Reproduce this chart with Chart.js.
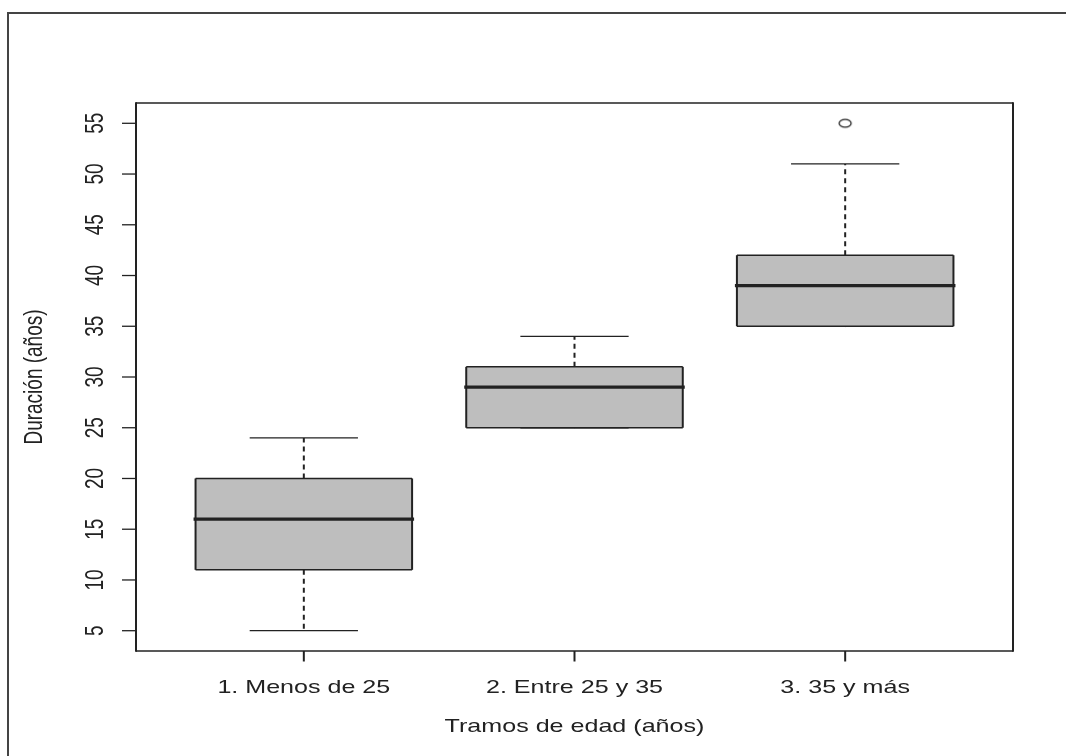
<!DOCTYPE html>
<html>
<head>
<meta charset="utf-8">
<script src="https://cdn.jsdelivr.net/npm/chart.js@4"></script>
<style>
  body { margin: 0; background: #fff; }
  canvas { display: block; }
</style>
</head>
<body>
<canvas id="box" width="1066" height="756"></canvas>
<script>
// Boxplot data (duration in years by age bracket)
const categories = ['1. Menos de 25', '2. Entre 25 y 35', '3. 35 y más'];
const whiskerLow = [5, 25, 35];
const q1 = [11, 25, 35];
const median = [16, 29, 39];
const q3 = [20, 31, 42];
const whiskerHigh = [24, 34, 51];
const outlierX = [3];
const outlierY = [55];
const yTicks = [5, 10, 15, 20, 25, 30, 35, 40, 45, 50, 55];

const xTitle = 'Tramos de edad (años)';
const yTitle = 'Duración (años)';

// the reference is stretched sideways, so text and strokes are too
const SX = 1.32;
const FONT = '19px "Liberation Sans", Arial, sans-serif';
const INK = '#222';

function stretchedText(ctx, text, x, y, rotate) {
    ctx.save();
    ctx.translate(x, y);
    ctx.scale(SX, 1);
    if (rotate) ctx.rotate(-Math.PI / 2);
    ctx.fillText(text, 0, 0);
    ctx.restore();
}

function line(ctx, x1, y1, x2, y2, w, dash) {
    ctx.save();
    ctx.lineWidth = w;
    ctx.strokeStyle = INK;
    ctx.setLineDash(dash || []);
    ctx.beginPath();
    ctx.moveTo(x1, y1);
    ctx.lineTo(x2, y2);
    ctx.stroke();
    ctx.restore();
}

// open circle, squashed like the reference
const ring = document.createElement('canvas');
ring.width = 16; ring.height = 12;
(function () {
    const c = ring.getContext('2d');
    c.strokeStyle = INK;
    c.lineWidth = 1.3;
    c.beginPath();
    c.ellipse(8, 6, 6, 3.8, 0, 0, Math.PI * 2);
    c.stroke();
})();

const boxPlugin = {
    id: 'boxes',
    beforeDatasetsDraw(chart) {
        const ctx = chart.ctx;
        const x = chart.scales.x, y = chart.scales.y;
        categories.forEach((_, i) => {
            const cx = x.getPixelForValue(i + 1);
            const l = x.getPixelForValue(i + 1 - 0.4);
            const r = x.getPixelForValue(i + 1 + 0.4);
            const cl = x.getPixelForValue(i + 1 - 0.2);
            const cr = x.getPixelForValue(i + 1 + 0.2);
            const yq1 = y.getPixelForValue(q1[i]);
            const yq3 = y.getPixelForValue(q3[i]);
            const ymed = y.getPixelForValue(median[i]);
            const ylo = y.getPixelForValue(whiskerLow[i]);
            const yhi = y.getPixelForValue(whiskerHigh[i]);

            // whiskers
            line(ctx, cx, yq3, cx, yhi, 2, [5, 4]);
            line(ctx, cx, yq1, cx, ylo, 2, [5, 4]);
            line(ctx, cl, yhi, cr, yhi, 1.3);
            line(ctx, cl, ylo, cr, ylo, 1.3);

            // box
            ctx.save();
            ctx.fillStyle = '#bebebe';
            ctx.fillRect(l, yq3, r - l, yq1 - yq3);
            ctx.restore();
            line(ctx, l, yq3, r, yq3, 1.5);
            line(ctx, l, yq1, r, yq1, 1.5);
            line(ctx, l, yq3, l, yq1, 2);
            line(ctx, r, yq3, r, yq1, 2);

            // median
            line(ctx, l - 2, ymed, r + 2, ymed, 3.2);
        });
    },
    afterDraw(chart) {
        const ctx = chart.ctx;
        const a = chart.chartArea;
        const x = chart.scales.x, y = chart.scales.y;

        // outer frame (only top and left survive the crop)
        ctx.save();
        ctx.strokeStyle = '#444';
        ctx.lineWidth = 2;
        ctx.beginPath();
        ctx.moveTo(8, 756);
        ctx.lineTo(8, 13);
        ctx.lineTo(1066, 13);
        ctx.stroke();
        ctx.restore();

        // plot frame
        line(ctx, a.left, a.top, a.right, a.top, 1.5);
        line(ctx, a.left, a.bottom, a.right, a.bottom, 1.5);
        line(ctx, a.left, a.top - 0.75, a.left, a.bottom + 0.75, 2);
        line(ctx, a.right, a.top - 0.75, a.right, a.bottom + 0.75, 2);

        ctx.save();
        ctx.fillStyle = INK;
        ctx.font = FONT;
        ctx.textAlign = 'center';
        ctx.textBaseline = 'alphabetic';

        // y axis
        yTicks.forEach(v => {
            const py = y.getPixelForValue(v);
            line(ctx, a.left - 14, py, a.left, py, 1.3);
            stretchedText(ctx, String(v), 103, py, true);
        });

        // x axis
        categories.forEach((c, i) => {
            const px = x.getPixelForValue(i + 1);
            line(ctx, px, a.bottom, px, a.bottom + 10.5, 2);
            stretchedText(ctx, c, px, 693, false);
        });

        stretchedText(ctx, xTitle, (a.left + a.right) / 2, 732, false);
        stretchedText(ctx, yTitle, 41.5, (a.top + a.bottom) / 2, true);
        ctx.restore();
    }
};

new Chart(document.getElementById('box'), {
    type: 'scatter',
    data: {
        datasets: [{
            label: 'outliers',
            data: outlierX.map((v, i) => ({ x: v, y: outlierY[i] })),
            pointStyle: ring,
            pointRadius: 6,
        }],
    },
    options: {
        responsive: false,
        animation: false,
        layout: { padding: { left: 136, top: 103, right: 53, bottom: 105 } },
        plugins: {
            legend: { display: false },
            tooltip: { enabled: false },
        },
        scales: {
            x: { type: 'linear', min: 0.38, max: 3.62, display: false },
            y: { type: 'linear', min: 3, max: 57, display: false },
        },
    },
    plugins: [boxPlugin],
});
</script>
</body>
</html>
